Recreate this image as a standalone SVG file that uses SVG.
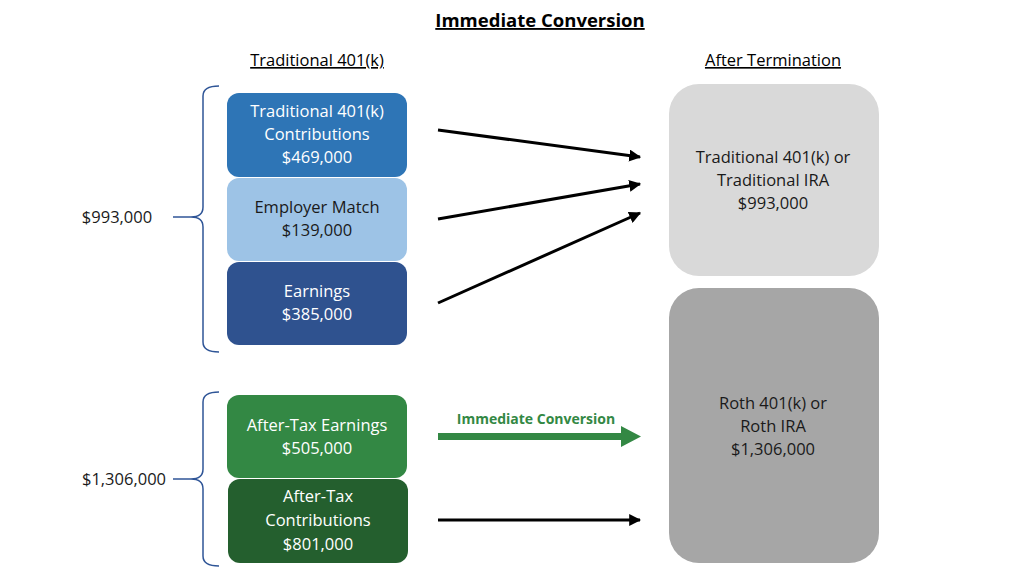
<svg xmlns="http://www.w3.org/2000/svg" width="1024" height="576" viewBox="0 0 1024 576">
<defs>
<style>
text{font-family:"Open Sans","Liberation Sans",sans-serif;font-size:16.5px;text-anchor:middle;}
.w{fill:#ffffff;}
.k{fill:#1a1a1a;}
.hd{fill:#000;text-decoration:underline;}
.brace{fill:none;stroke:#2F5597;stroke-width:1.5;}
.conn{stroke:#000;stroke-width:3;fill:none;}
</style>
<marker id="ah" viewBox="0 0 10 10" refX="9" refY="5" markerWidth="4" markerHeight="4" orient="auto" markerUnits="strokeWidth">
<path d="M0,0 L10,5 L0,10 z" fill="#000"/>
</marker>
</defs>
<rect width="1024" height="576" fill="#fff"/>
<text x="540" y="27" class="hd" style="font-weight:bold;font-size:18.5px">Immediate Conversion</text>
<text x="317" y="66" class="hd">Traditional 401(k)</text>
<text x="773" y="66" class="hd">After Termination</text>

<g id="brace-top">
<path class="brace" d="M219,86 Q203,86 203,96 L203,207 Q203,217 191,217 Q203,217 203,227 L203,342 Q203,352 219,352"/>
<line class="brace" x1="173" y1="217" x2="191" y2="217"/>
<text x="117" y="223" class="k">$993,000</text>
</g>
<g id="brace-bottom">
<path class="brace" d="M219,392 Q203,392 203,402 L203,469 Q203,479 191,479 Q203,479 203,489 L203,556 Q203,566 219,566"/>
<line class="brace" x1="173" y1="479" x2="191" y2="479"/>
<text x="124" y="485" class="k">$1,306,000</text>
</g>

<g id="trad-contrib">
<rect x="227" y="93" width="180" height="84" rx="12" fill="#2E75B6"/>
<text x="317" y="117" class="w">Traditional 401(k)</text>
<text x="317" y="140" class="w">Contributions</text>
<text x="317" y="163" class="w">$469,000</text>
</g>
<g id="employer-match">
<rect x="227" y="178" width="180" height="83" rx="12" fill="#9DC3E6"/>
<text x="317" y="213" class="k">Employer Match</text>
<text x="317" y="236" class="k">$139,000</text>
</g>
<g id="earnings">
<rect x="227" y="262" width="180" height="83" rx="12" fill="#2F528F"/>
<text x="317" y="297" class="w">Earnings</text>
<text x="317" y="320" class="w">$385,000</text>
</g>
<g id="aftertax-earnings">
<rect x="227" y="395" width="180" height="83" rx="12" fill="#338844"/>
<text x="317" y="431" class="w">After-Tax Earnings</text>
<text x="317" y="454" class="w">$505,000</text>
</g>
<g id="aftertax-contrib">
<rect x="228" y="479" width="180" height="84" rx="12" fill="#245F2E"/>
<text x="318" y="502" class="w">After-Tax</text>
<text x="318" y="526" class="w">Contributions</text>
<text x="318" y="550" class="w">$801,000</text>
</g>
<g id="trad-ira">
<rect x="669" y="84" width="210" height="192" rx="30" fill="#D9D9D9"/>
<text x="773" y="163" class="k">Traditional 401(k) or</text>
<text x="773" y="186" class="k">Traditional IRA</text>
<text x="773" y="209" class="k">$993,000</text>
</g>
<g id="roth-ira">
<rect x="669" y="288" width="210" height="275" rx="30" fill="#A6A6A6"/>
<text x="773" y="409" class="k">Roth 401(k) or</text>
<text x="773" y="432" class="k">Roth IRA</text>
<text x="773" y="455" class="k">$1,306,000</text>
</g>

<g id="connectors">
<line class="conn" x1="438" y1="130" x2="640" y2="157" marker-end="url(#ah)"/>
<line class="conn" x1="438" y1="219" x2="640" y2="184" marker-end="url(#ah)"/>
<line class="conn" x1="438" y1="303" x2="640" y2="213" marker-end="url(#ah)"/>
<line class="conn" x1="438" y1="520" x2="640" y2="520" marker-end="url(#ah)"/>
<path d="M438,433 L621,433 L621,426 L641,436.5 L621,447 L621,440 L438,440 z" fill="#338844"/>
<text x="536" y="424" style="fill:#338844;font-weight:bold;font-size:14px">Immediate Conversion</text>
</g>
</svg>
